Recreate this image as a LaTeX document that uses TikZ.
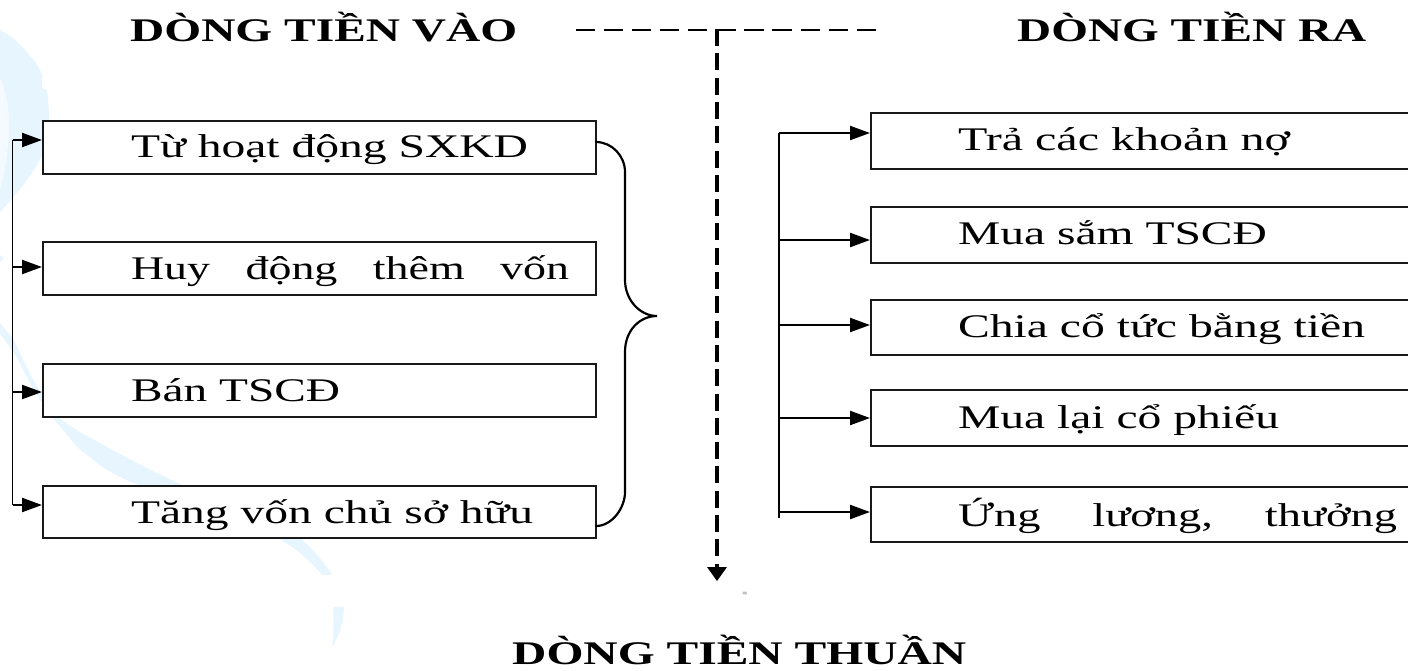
\documentclass[tikz,border=0pt]{standalone}
\usepackage{fontspec}
\setmainfont{Liberation Serif}
\usetikzlibrary{arrows.meta}
\definecolor{wmark}{HTML}{E6F5FE}
\definecolor{wmarkin}{HTML}{F4FAFF}
% #1 box width, #2 left padding, #3 printed text width, #4 text
\newcommand{\boxtext}[4]{\makebox[#1pt][l]{\hspace*{#2pt}\resizebox{#3pt}{\height}{#4}}}
\newcommand{\wide}{\hspace{0.52em}}
\tikzset{
  every picture/.style={x=1pt,y=-1pt},
  flowbox/.style={draw=black!90,line width=2.1pt,fill=white,inner sep=0pt,anchor=north west,
     font=\fontsize{33}{33}\selectfont},
  title/.style={inner sep=0pt,anchor=base west,font=\fontsize{33}{33}\selectfont\bfseries},
  trunk/.style={line width=#1},
  feed/.style={line width=#1,-{Triangle[length=20pt,width=14pt]},shorten >=0pt},
  dashh/.style={line width=1.5pt,dash pattern=on 19.3pt off 8.8pt},
  dashv/.style={line width=3.2pt,dash pattern=on 17pt off 7.3pt},
  brace/.style={line width=2.2pt,line cap=round}
}
\begin{document}
\begin{tikzpicture}
\useasboundingbox (0,0) rectangle (1408,670);
\clip (0,0) rectangle (1408,670);
% watermark
\fill[wmark] (0,30) -- (12,37) .. controls (25,50) and (38,62) .. (42,75) -- (42,88) -- (47,90)
  .. controls (49,105) and (50,125) .. (48,140) .. controls (42,162) and (25,185) .. (0,212) -- cycle;
\fill[wmarkin] (0,78) .. controls (8,95) and (11,120) .. (8,145) .. controls (6,165) and (3,180) .. (0,190) -- cycle;
\fill[wmark] (0,255) -- (4,258) -- (0,262) -- cycle;
\fill[wmark] (0,323) -- (14,340) .. controls (25,365) and (40,395) .. (55,415)
  .. controls (75,430) and (85,435) .. (100,443) .. controls (130,460) and (155,472) .. (180,484)
  -- (300,538) .. controls (312,548) and (324,562) .. (332,575) -- (322,575)
  .. controls (310,560) and (295,548) .. (278,538) -- (133,483)
  .. controls (115,475) and (100,467) .. (90,457) .. controls (78,450) and (70,438) .. (63,430)
  .. controls (45,410) and (30,385) .. (20,363) .. controls (14,352) and (6,342) .. (0,334) -- cycle;
\fill[wmark] (333,607) -- (344,607) .. controls (344,620) and (340,635) .. (332,647) .. controls (334,632) and (334,620) .. (333,607) -- cycle;

% titles
\node[title] (tin) at (130,41) {\resizebox{387pt}{\height}{DÒNG TIỀN VÀO}};
\node[title] (tout) at (1017,41) {\resizebox{349pt}{\height}{DÒNG TIỀN RA}};
\node[title] (tnet) at (512,664) {\resizebox{454pt}{\height}{DÒNG TIỀN THUẦN}};

% left boxes
\node[flowbox,text height=36pt,text depth=17pt] (a1) at (42,120) {\boxtext{553}{88}{397}{Từ hoạt động SXKD}};
\node[flowbox,text height=37pt,text depth=16pt] (a2) at (42,241) {\boxtext{553}{88}{438}{Huy\wide{} động\wide{} thêm\wide{} vốn}};
\node[flowbox,text height=37pt,text depth=16pt] (a3) at (42,363) {\boxtext{553}{88}{209}{Bán TSCĐ}};
\node[flowbox,text height=37pt,text depth=15pt] (a4) at (42,485) {\boxtext{553}{88}{402}{Tăng vốn chủ sở hữu}};

% right boxes
\node[flowbox,text height=37pt,text depth=19pt] (b1) at (870,112) {\boxtext{560}{87}{332}{Trả các khoản nợ}};
\node[flowbox,text height=37pt,text depth=19pt] (b2) at (870,206) {\boxtext{560}{87}{309}{Mua sắm TSCĐ}};
\node[flowbox,text height=37pt,text depth=18pt] (b3) at (870,299) {\boxtext{560}{87}{407}{Chia cổ tức bằng tiền}};
\node[flowbox,text height=38pt,text depth=18pt] (b4) at (870,389) {\boxtext{560}{87}{321}{Mua lại cổ phiếu}};
\node[flowbox,text height=39pt,text depth=16pt] (b5) at (870,486) {\boxtext{560}{87}{439}{Ứng\hspace{1.12em}lương,\hspace{1.12em}thưởng}};

\node[inner sep=0pt,text=black!75,font=\fontsize{9}{9}\selectfont] (eq) at (745,594) {=};

% left trunk and feeds
\coordinate (l1) at (12.5,140);
\coordinate (l2) at (12.5,267);
\coordinate (l3) at (12.5,392);
\coordinate (l4) at (12.5,505);
\draw[trunk=1.3pt] (l1) -- (l4);
\foreach \n/\b in {l1/a1,l2/a2,l3/a3,l4/a4}
  \draw[feed=2.2pt] (\n) -- (\n -| \b.west);

% right trunk and feeds
\coordinate (r1) at (778.5,133);
\coordinate (r2) at (778.5,240);
\coordinate (r3) at (778.5,325);
\coordinate (r4) at (778.5,418);
\coordinate (r5) at (778.5,512);
\coordinate (rend) at (778.5,518);
\draw[trunk=2pt] (r1) -- (rend);
\foreach \n/\b in {r1/b1,r2/b2,r3/b3,r4/b4,r5/b5}
  \draw[feed=2.2pt] (\n) -- (\n -| \b.west);

% brace
\coordinate (bt) at (596,142);
\coordinate (bb) at (596,526);
\coordinate (tip) at (657,316);
\draw[brace] (bt) .. controls (612,142) and (625,156) .. (625,172) -- (625,280)
  .. controls (625,300) and (640,316) .. (tip)
  .. controls (640,316) and (625,330) .. (625,352) -- (625,492)
  .. controls (625,508) and (612,526) .. (bb);

% dashed cross
\coordinate (dl) at (575.7,30);
\coordinate (dr) at (876.3,30);
\coordinate (dj) at (717,29);
\coordinate (dk) at (717,567);
\coordinate (de) at (717,581);
\draw[dashh] (dl) -- (dr);
\draw[dashv] (dj) -- (dk);
\fill (707,567) -- (727,567) -- (de) -- cycle;
\end{tikzpicture}
\end{document}
